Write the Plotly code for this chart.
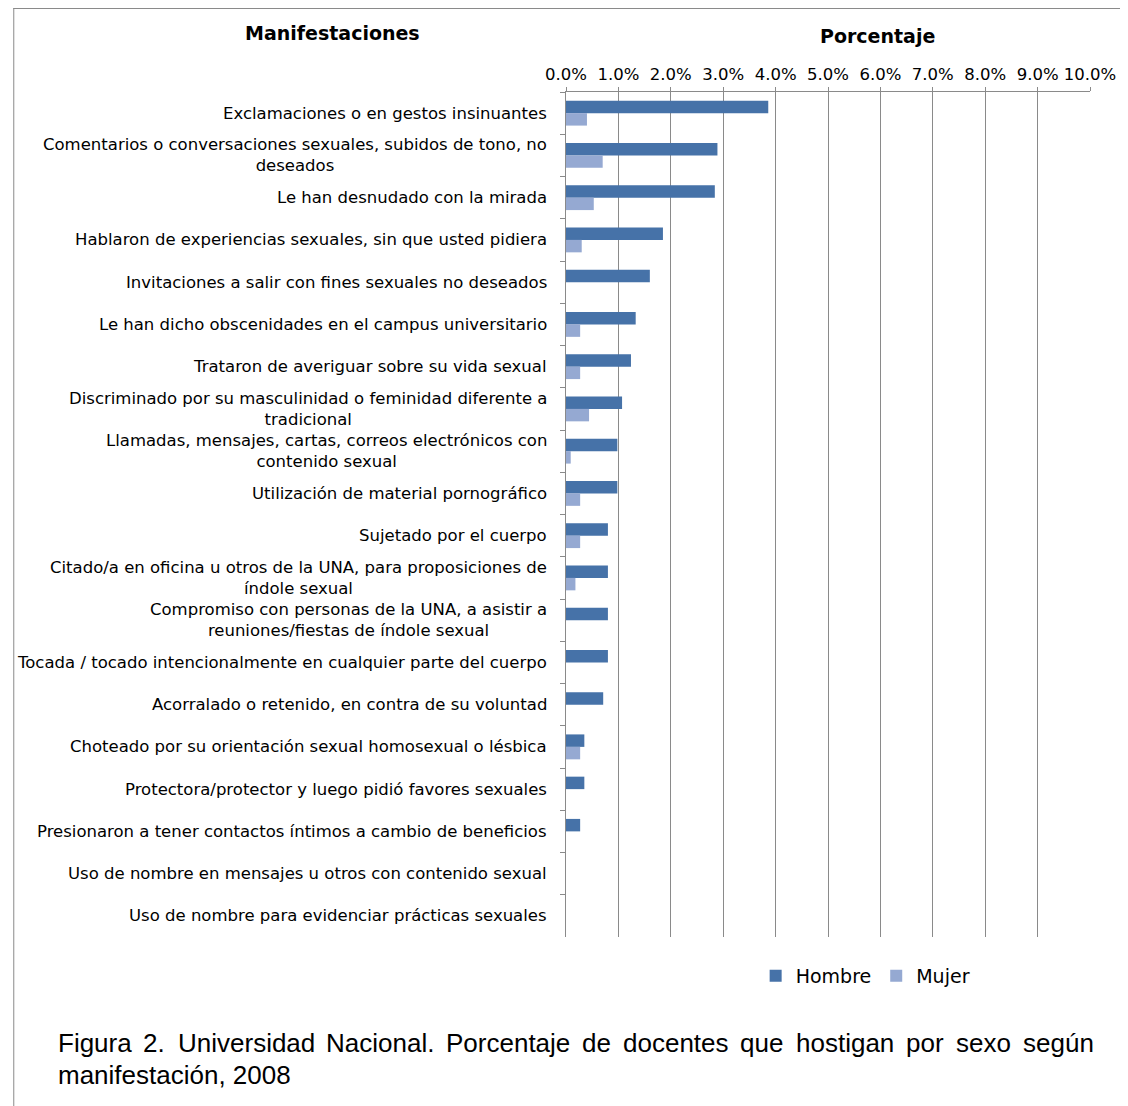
import plotly.graph_objects as go

categories = [
    "Exclamaciones o en gestos insinuantes",
    "Comentarios o conversaciones sexuales, subidos de tono, no<br>deseados",
    "Le han desnudado con la mirada",
    "Hablaron de experiencias sexuales, sin que usted pidiera",
    "Invitaciones a salir con fines sexuales no deseados",
    "Le han dicho obscenidades en el campus universitario",
    "Trataron de averiguar sobre su vida sexual",
    "Discriminado por su masculinidad o feminidad diferente a<br>tradicional",
    "Llamadas, mensajes, cartas, correos electrónicos con<br>contenido sexual",
    "Utilización de material pornográfico",
    "Sujetado por el cuerpo",
    "Citado/a en oficina u otros de la UNA, para proposiciones de<br>índole sexual",
    "Compromiso con personas de la UNA, a asistir a<br>reuniones/fiestas de índole sexual",
    "Tocada / tocado intencionalmente en cualquier parte del cuerpo",
    "Acorralado o retenido, en contra de su voluntad",
    "Choteado por su orientación sexual homosexual o lésbica",
    "Protectora/protector y luego pidió favores sexuales",
    "Presionaron a tener contactos íntimos a cambio de beneficios",
    "Uso de nombre en mensajes u otros con contenido sexual",
    "Uso de nombre para evidenciar prácticas sexuales",
]
hombre = [3.86, 2.89, 2.84, 1.85, 1.60, 1.33, 1.24, 1.07, 0.98, 0.98,
          0.80, 0.80, 0.80, 0.80, 0.71, 0.35, 0.35, 0.27, 0.0, 0.0]
mujer = [0.40, 0.70, 0.53, 0.30, 0.0, 0.27, 0.27, 0.44, 0.09, 0.27,
         0.27, 0.18, 0.0, 0.0, 0.0, 0.27, 0.0, 0.0, 0.0, 0.0]
x_ticks = [0, 1, 2, 3, 4, 5, 6, 7, 8, 9, 10]
x_tick_labels = ["%.1f%%" % v for v in x_ticks]
caption_line1 = "Figura 2. Universidad Nacional. Porcentaje de docentes que hostigan por sexo según"
caption_line2 = "manifestación, 2008"

FONT = "DejaVu Sans, Verdana, sans-serif"
CAP_FONT = "Liberation Sans, Arial, sans-serif"

# page has an 8px body margin; reference coordinates are shifted by OFF
OFF = 8
W, H = 1120, 1098
L, R, T, B = 558, 33, 84, 169
PW, PH = W - L - R, H - T - B


def px(xr):
    return (xr - OFF - L) / PW


def py(yr):
    return (H - B - (yr - OFF)) / PH


# Arial advance widths (per 1000 em) for justifying the caption
AW = {" ": 278, ".": 278, ",": 278, "F": 611, "U": 722, "N": 722, "P": 667,
      "a": 556, "b": 556, "c": 500, "d": 556, "e": 556, "f": 278, "g": 556,
      "h": 556, "i": 222, "j": 222, "k": 500, "l": 222, "m": 833, "n": 556,
      "o": 556, "p": 556, "q": 556, "r": 333, "s": 500, "t": 278, "u": 556,
      "v": 500, "w": 722, "x": 500, "y": 500, "z": 500, "ú": 556, "ó": 556,
      "2": 556}


def tw(s, size):
    return sum(AW.get(ch, 556) for ch in s) * size / 1000.0


fig = go.Figure()
fig.add_trace(go.Bar(y=categories, x=hombre, name="Hombre", orientation="h",
                     marker=dict(color="#4672A8", line=dict(width=0))))
fig.add_trace(go.Bar(y=categories, x=mujer, name="Mujer", orientation="h",
                     marker=dict(color="#95A9D2", line=dict(width=0))))

annotations = []
for c in categories:
    annotations.append(dict(x=0, xref="paper", y=c, yref="y", text=c,
                            xanchor="right", yanchor="middle", align="center",
                            xshift=-17, showarrow=False,
                            font=dict(family=FONT, size=16.5, color="#000")))

annotations += [
    dict(x=px(330), y=py(33), xref="paper", yref="paper", text="<b>Manifestaciones</b>",
         showarrow=False, xanchor="center", yanchor="middle",
         font=dict(family=FONT, size=19, color="#000")),
    dict(x=px(880), y=py(36), xref="paper", yref="paper", text="<b>Porcentaje</b>",
         showarrow=False, xanchor="center", yanchor="middle",
         font=dict(family=FONT, size=19, color="#000")),
]

# justified first caption line
CAP_SIZE = 26
words = caption_line1.split(" ")
x_left, x_right = 51, 1096
total = sum(tw(w, CAP_SIZE) for w in words)
gap = (x_right - x_left - total) / (len(words) - 1)
xc = x_left
for w in words:
    annotations.append(dict(x=px(xc), y=py(1043), xref="paper", yref="paper", text=w,
                            showarrow=False, xanchor="left", yanchor="middle",
                            font=dict(family=CAP_FONT, size=CAP_SIZE, color="#000")))
    xc += tw(w, CAP_SIZE) + gap
annotations.append(dict(x=px(x_left), y=py(1075), xref="paper", yref="paper",
                        text=caption_line2, showarrow=False, xanchor="left",
                        yanchor="middle",
                        font=dict(family=CAP_FONT, size=CAP_SIZE, color="#000")))

shapes = [
    dict(type="line", xref="paper", yref="paper", x0=px(8), x1=px(1140), y0=py(8.5), y1=py(8.5),
         line=dict(color="#8a8a8a", width=1)),
    dict(type="line", xref="paper", yref="paper", x0=px(8.5), x1=px(8.5), y0=py(8), y1=py(1120),
         line=dict(color="#8a8a8a", width=1)),
]

fig.update_layout(
    width=W, height=H,
    margin=dict(l=L, r=R, t=T, b=B),
    paper_bgcolor="white", plot_bgcolor="white",
    barmode="group", bargap=0.41, bargroupgap=0,
    font=dict(family=FONT, size=15, color="#000"),
    showlegend=True,
    legend=dict(orientation="h", x=px(868), xanchor="center", y=py(976), yanchor="middle",
                font=dict(family=FONT, size=19, color="#000"), traceorder="normal",
                itemwidth=30, tracegroupgap=0),
    annotations=annotations,
    shapes=shapes,
    xaxis=dict(side="top", range=[0, 10], tickvals=x_ticks, ticktext=x_tick_labels,
               showgrid=True, gridcolor="#8a8a8a", gridwidth=1,
               showline=True, linecolor="#8a8a8a", linewidth=1,
               ticks="outside", ticklen=4, tickcolor="#8a8a8a",
               tickfont=dict(family=FONT, size=16.5, color="#000"), zeroline=False,
               fixedrange=True),
    yaxis=dict(autorange="reversed", showticklabels=False, tickson="boundaries",
               ticks="outside", ticklen=5, tickcolor="#8a8a8a",
               showline=True, linecolor="#8a8a8a", linewidth=1, showgrid=False,
               fixedrange=True),
)

fig.write_html("out.html")
